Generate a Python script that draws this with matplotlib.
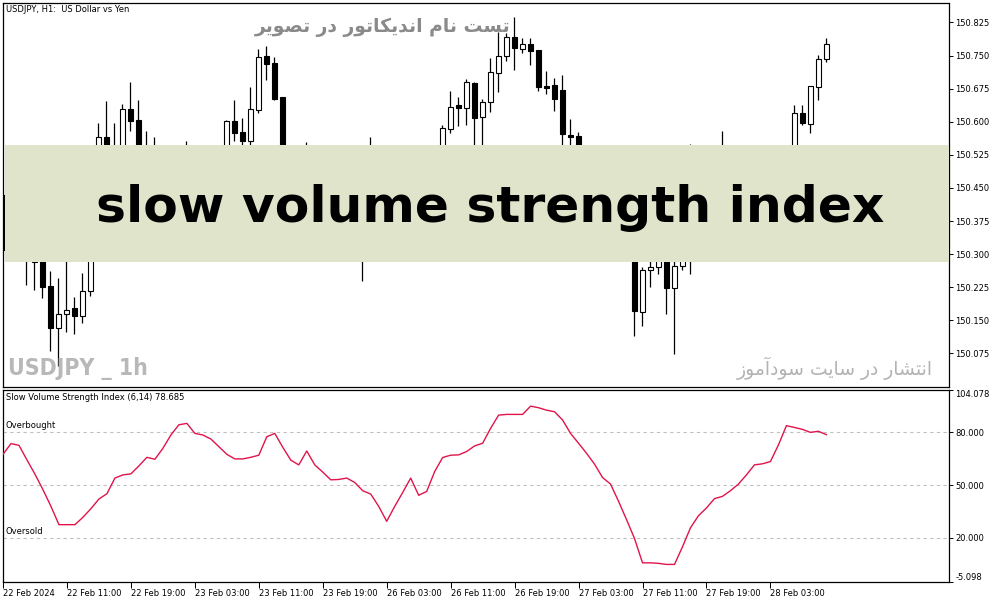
import numpy as np
import matplotlib
matplotlib.use('Agg')
import matplotlib.pyplot as plt
from matplotlib.patches import Rectangle

# USDJPY H1 candles, 22 Feb 03:00 .. 28 Feb 10:00
opens = [150.435, 150.31, 150.35, 150.33, 150.30, 150.29, 150.228, 150.132, 150.165, 150.177,
         150.159, 150.217, 150.42, 150.566, 150.52, 150.54, 150.628, 150.605, 150.52, 150.48,
         150.50, 150.47, 150.49, 150.46, 150.50, 150.52, 150.49, 150.51, 150.53, 150.602,
         150.577, 150.556, 150.627, 150.750, 150.732, 150.655, 150.48, 150.45, 150.47, 150.50,
         150.48, 150.46, 150.42, 150.45, 150.43, 150.38, 150.30, 150.48, 150.45, 150.42,
         150.47, 150.50, 150.52, 150.47, 150.51, 150.53, 150.584, 150.639, 150.632, 150.688,
         150.611, 150.645, 150.711, 150.749, 150.793, 150.765, 150.777, 150.762, 150.680, 150.684,
         150.671, 150.571, 150.567, 150.47, 150.42, 150.38, 150.36, 150.35, 150.32, 150.31,
         150.169, 150.265, 150.271, 150.31, 150.223, 150.274, 150.33, 150.40, 150.44, 150.47,
         150.49, 150.51, 150.48, 150.50, 150.52, 150.50, 150.52, 150.51, 150.53, 150.52,
         150.620, 150.595, 150.679, 150.743]
highs = [150.45, 150.38, 150.40, 150.36, 150.33, 150.30, 150.262, 150.245, 150.30, 150.202,
         150.257, 150.45, 150.598, 150.646, 150.596, 150.641, 150.690, 150.650, 150.578, 150.566,
         150.54, 150.52, 150.53, 150.557, 150.54, 150.54, 150.53, 150.54, 150.603, 150.650,
         150.609, 150.678, 150.764, 150.771, 150.747, 150.656, 150.53, 150.50, 150.555, 150.54,
         150.52, 150.50, 150.47, 150.49, 150.46, 150.42, 150.565, 150.53, 150.50, 150.49,
         150.52, 150.54, 150.54, 150.53, 150.54, 150.593, 150.670, 150.657, 150.697, 150.690,
         150.652, 150.745, 150.804, 150.802, 150.838, 150.790, 150.790, 150.763, 150.716, 150.700,
         150.707, 150.607, 150.576, 150.50, 150.46, 150.42, 150.40, 150.38, 150.36, 150.34,
         150.270, 150.30, 150.33, 150.35, 150.30, 150.35, 150.550, 150.46, 150.50, 150.52,
         150.580, 150.54, 150.52, 150.54, 150.54, 150.54, 150.54, 150.54, 150.54, 150.639,
         150.637, 150.682, 150.752, 150.790]
lows = [150.30, 150.29, 150.29, 150.230, 150.218, 150.200, 150.080, 150.046, 150.123, 150.119,
        150.144, 150.205, 150.36, 150.50, 150.48, 150.52, 150.579, 150.50, 150.46, 150.44,
        150.45, 150.43, 150.44, 150.44, 150.46, 150.47, 150.45, 150.48, 150.51, 150.556,
        150.53, 150.54, 150.62, 150.694, 150.650, 150.45, 150.42, 150.40, 150.44, 150.46,
        150.44, 150.40, 150.38, 150.41, 150.36, 150.240, 150.29, 150.43, 150.40, 150.39,
        150.44, 150.46, 150.45, 150.45, 150.48, 150.51, 150.575, 150.590, 150.592, 150.53,
        150.53, 150.622, 150.667, 150.737, 150.717, 150.756, 150.728, 150.669, 150.663, 150.624,
        150.53, 150.50, 150.45, 150.40, 150.36, 150.34, 150.32, 150.30, 150.29, 150.114,
        150.137, 150.225, 150.255, 150.164, 150.073, 150.264, 150.255, 150.36, 150.41, 150.44,
        150.46, 150.47, 150.44, 150.47, 150.48, 150.47, 150.49, 150.48, 150.50, 150.50,
        150.592, 150.575, 150.649, 150.735]
closes = [150.31, 150.35, 150.33, 150.30, 150.282, 150.225, 150.132, 150.164, 150.174, 150.159,
          150.217, 150.42, 150.566, 150.52, 150.54, 150.628, 150.601, 150.52, 150.48, 150.50,
          150.47, 150.49, 150.46, 150.50, 150.52, 150.49, 150.51, 150.53, 150.602, 150.575,
          150.556, 150.629, 150.747, 150.731, 150.652, 150.48, 150.45, 150.47, 150.50, 150.48,
          150.46, 150.42, 150.45, 150.43, 150.38, 150.30, 150.48, 150.45, 150.42, 150.47,
          150.50, 150.52, 150.47, 150.51, 150.53, 150.585, 150.634, 150.631, 150.689, 150.609,
          150.645, 150.713, 150.749, 150.793, 150.768, 150.777, 150.760, 150.678, 150.676, 150.652,
          150.572, 150.566, 150.47, 150.42, 150.38, 150.36, 150.35, 150.32, 150.31, 150.172,
          150.265, 150.271, 150.31, 150.223, 150.274, 150.33, 150.40, 150.44, 150.47, 150.49,
          150.51, 150.48, 150.50, 150.52, 150.50, 150.52, 150.51, 150.53, 150.52, 150.620,
          150.596, 150.680, 150.743, 150.777]

# Slow Volume Strength Index (6,14)
svsi = [67.5, 73.6, 72.6, 64.3, 56.2, 47.4, 37.9, 27.5, 27.5, 27.5,
        31.7, 36.6, 42.1, 45.1, 54.0, 55.8, 56.4, 60.9, 65.8, 64.7,
        70.9, 78.5, 84.3, 85.1, 79.4, 78.5, 76.2, 71.9, 67.5, 64.9,
        64.9, 65.8, 67.0, 77.5, 79.4, 71.5, 64.2, 61.5, 69.4, 61.5,
        57.4, 53.0, 53.2, 54.0, 51.5, 46.8, 44.9, 37.9, 29.4, 37.9,
        45.8, 54.0, 44.2, 46.4, 57.7, 65.7, 67.0, 67.2, 69.1, 72.3,
        73.8, 82.3, 89.8, 90.2, 90.2, 90.2, 94.9, 94.0, 92.6, 91.7,
        87.0, 79.4, 73.8, 68.1, 61.9, 54.3, 50.6, 40.8, 30.4, 19.6,
        5.8, 5.8, 5.5, 4.9, 4.9, 14.9, 25.7, 32.6, 37.0, 42.3,
        43.6, 46.8, 50.6, 55.8, 61.5, 62.1, 63.4, 72.8, 83.8, 82.8,
        81.7, 80.0, 80.6, 78.685]
levels = [20, 50, 80]

price_ticks = ['150.075', '150.150', '150.225', '150.300', '150.375', '150.450',
               '150.525', '150.600', '150.675', '150.750', '150.825']
ind_ticks = ['-5.098', '20.000', '50.000', '80.000', '104.078']
time_labels = ['22 Feb 2024', '22 Feb 11:00', '22 Feb 19:00', '23 Feb 03:00', '23 Feb 11:00',
               '23 Feb 19:00', '26 Feb 03:00', '26 Feb 11:00', '26 Feb 19:00', '27 Feb 03:00',
               '27 Feb 11:00', '27 Feb 19:00', '28 Feb 03:00']
time_pos = [0, 8, 16, 24, 32, 40, 48, 56, 64, 72, 80, 88, 96]

title_top = 'USDJPY, H1:  US Dollar vs Yen'
title_ind = 'Slow Volume Strength Index (6,14) 78.685'
banner = 'slow volume strength index'
fa_top = 'تست نام اندیکاتور در تصویر'
fa_bottom = 'انتشار در سایت سودآموز'
watermark = 'USDJPY _ 1h'

# minimal persian shaping (no arabic_reshaper available)
FORMS = {
    'ا': ('\ufe8d', '\ufe8e', None, None),
    'آ': ('\ufe81', '\ufe82', None, None),
    'د': ('\ufea9', '\ufeaa', None, None),
    'ر': ('\ufead', '\ufeae', None, None),
    'ز': ('\ufeaf', '\ufeb0', None, None),
    'و': ('\ufeed', '\ufeee', None, None),
    'ت': ('\ufe95', '\ufe96', '\ufe97', '\ufe98'),
    'س': ('\ufeb1', '\ufeb2', '\ufeb3', '\ufeb4'),
    'ش': ('\ufeb5', '\ufeb6', '\ufeb7', '\ufeb8'),
    'ص': ('\ufeb9', '\ufeba', '\ufebb', '\ufebc'),
    'م': ('\ufee1', '\ufee2', '\ufee3', '\ufee4'),
    'ن': ('\ufee5', '\ufee6', '\ufee7', '\ufee8'),
    'ی': ('\ufbfc', '\ufbfd', '\ufbfe', '\ufbff'),
    'ک': ('\ufb8e', '\ufb8f', '\ufb90', '\ufb91'),
}


def shape(text):
    out = []
    for k, ch in enumerate(text):
        if ch not in FORMS:
            out.append(ch)
            continue
        prev = text[k - 1] if k > 0 else None
        nxt = text[k + 1] if k + 1 < len(text) else None
        jp = prev in FORMS and FORMS[prev][2] is not None
        jn = nxt in FORMS and FORMS[ch][2] is not None
        iso, fin, ini, med = FORMS[ch]
        if jp and jn:
            out.append(med)
        elif jp:
            out.append(fin)
        elif jn:
            out.append(ini)
        else:
            out.append(iso)
    return ''.join(reversed(out))


W, H = 1003, 603
fig = plt.figure(figsize=(W / 100, H / 100), dpi=100)
fig.patch.set_facecolor('white')


def px_axes(l, t, r, b):
    return fig.add_axes([l / W, 1 - b / H, (r - l) / W, (b - t) / H])


def ftext(x, y, s, **kw):
    return fig.text(x / W, 1 - y / H, s, **kw)


ax1 = px_axes(3, 3, 949, 387)
ax2 = px_axes(3, 390, 949, 582)

x = np.arange(len(opens))
o = np.array(opens)
h = np.array(highs)
l = np.array(lows)
c = np.array(closes)
up = c >= o

ax1.vlines(x, l, h, color='black', lw=0.9, zorder=2)
ax1.bar(x, np.maximum(np.abs(c - o), 0.002), 0.62, bottom=np.minimum(o, c),
        color=np.where(up, 'white', 'black'), edgecolor='black', linewidth=0.8, zorder=3)

ax1.set_xlim(0.09, 118.34)
ax1.set_ylim(149.999, 150.869)
ax1.set_xticks([])
ax1.yaxis.tick_right()
ax1.set_yticks([float(t) for t in price_ticks])
ax1.set_yticklabels(price_ticks)
ax1.tick_params(axis='y', direction='out', length=3, width=0.7, labelsize=6, pad=1.5)

# banner over the chart
ax1.add_patch(Rectangle((0.002, 0.3255), 0.998, 0.3045, transform=ax1.transAxes,
                        facecolor='#dfe4cb', edgecolor='none', zorder=4))
ax1.text(0.515, 0.43, banner, transform=ax1.transAxes, ha='center', va='baseline',
         fontsize=36.3, fontweight='bold', family='DejaVu Sans', color='black', zorder=5)

for ax in (ax1, ax2):
    for sp in ax.spines.values():
        sp.set_linewidth(0.9)
        sp.set_color('black')

# indicator
ax2.plot(x, svsi, color='#e0144a', lw=1.0, zorder=3)
for lv in levels:
    ax2.axhline(lv, color='#c0c0c0', lw=0.8, dashes=(3, 3), zorder=1)
ax2.set_xlim(0.09, 118.34)
ax2.set_ylim(-5.098, 104.078)
ax2.yaxis.tick_right()
ax2.set_yticks([float(t) for t in ind_ticks])
ax2.set_yticklabels(ind_ticks)
ax2.tick_params(axis='y', direction='out', length=3, width=0.7, labelsize=6, pad=1.5)
ylabs = ax2.get_yticklabels()
ylabs[0].set_va('bottom')
ylabs[-1].set_va('top')
ax2.set_xticks(time_pos)
ax2.set_xticklabels(time_labels, ha='left')
ax2.tick_params(axis='x', direction='out', length=4, width=0.7, labelsize=6, pad=1.0)

# texts
ftext(6, 10, title_top, fontsize=6, va='center', ha='left')
ftext(6, 398, title_ind, fontsize=6, va='center', ha='left')
ftext(6, 426, 'Overbought', fontsize=6, va='center', ha='left')
ftext(6, 532, 'Oversold', fontsize=6, va='center', ha='left')
ftext(383, 27, shape(fa_top), fontsize=13.5, fontweight='bold', color='#8a8a8a',
      ha='center', va='center', family='DejaVu Sans')
ftext(835, 368, shape(fa_bottom), fontsize=13.5, color='#b3b3b3',
      ha='center', va='center', family='DejaVu Sans')
ftext(8, 368, watermark, fontsize=16.5, fontweight='bold', color='#b8b8b8',
      ha='left', va='center', family='DejaVu Sans', fontstretch='condensed')

fig.savefig('out.png', dpi=100)
